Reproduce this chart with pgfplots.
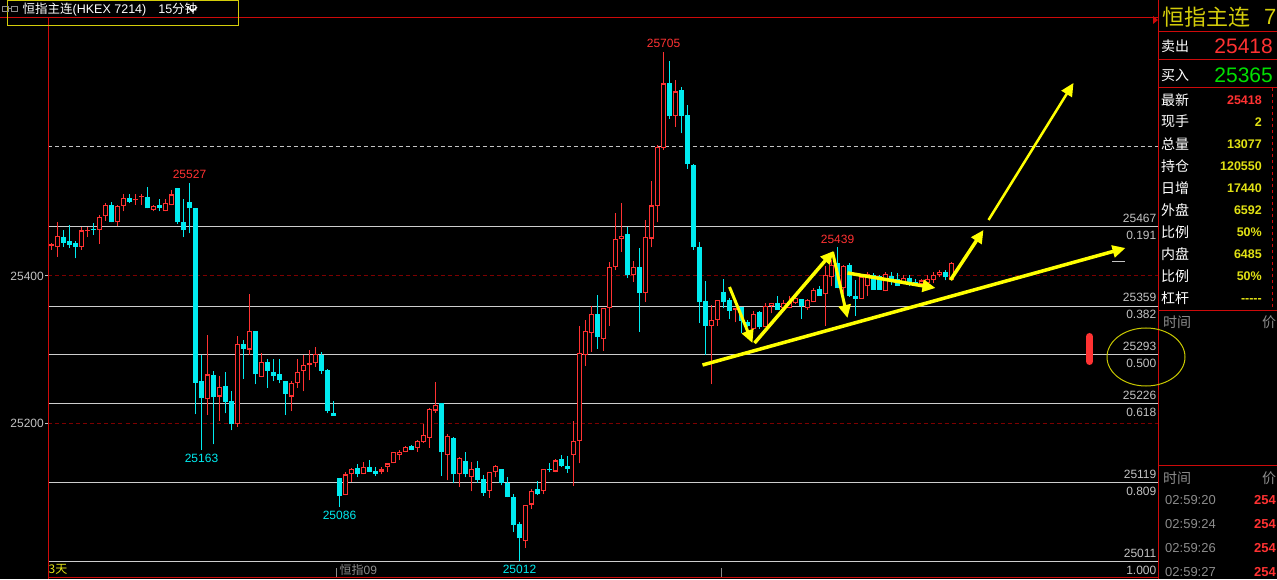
\documentclass[border=0pt]{standalone}
\usepackage{pgfplots}
\pgfplotsset{compat=1.18}
\usepackage{pgfplotstable}
\usepackage{fontspec}
\setmainfont{Liberation Sans}
\newfontfamily\cjk{Noto Sans CJK SC}
\usetikzlibrary{arrows.meta}

\definecolor{upred}{RGB}{255,50,50}
\definecolor{dncyan}{RGB}{0,235,240}
\definecolor{fibgray}{RGB}{205,205,205}
\definecolor{gridred}{RGB}{125,0,0}
\definecolor{framered}{RGB}{205,10,10}
\definecolor{txtgray}{RGB}{195,195,195}
\definecolor{dimgray}{RGB}{140,140,140}
\definecolor{ann}{RGB}{255,255,0}
\definecolor{valyel}{RGB}{225,225,20}
\definecolor{titley}{RGB}{212,205,10}
\definecolor{bidgreen}{RGB}{0,225,0}
\definecolor{ellip}{RGB}{200,200,0}

% 15-minute bars, index = bar number; rising bars
\pgfplotstableread{
i o h l c
0 25441 25445 25436 25443
1 25439 25473 25426 25454
5 25439 25467 25436 25462
6 25461 25467 25453 25463
8 25462 25483 25444 25480
9 25481 25499 25475 25497
11 25473 25497 25468 25495
12 25495 25512 25488 25506
14 25503 25511 25497 25505
15 25507 25512 25497 25509
17 25490 25497 25488 25495
19 25488 25505 25488 25499
20 25496 25517 25496 25511
26 25232 25320 25211 25266
28 25236 25264 25203 25249
31 25198 25318 25195 25308
33 25300 25376 25293 25325
35 25263 25295 25262 25283
40 25236 25257 25216 25255
41 25254 25287 25248 25270
42 25271 25293 25243 25279
43 25279 25300 25258 25281
44 25281 25303 25276 25294
49 25102 25133 25102 25130
50 25130 25139 25120 25137
52 25130 25147 25130 25140
55 25134 25140 25130 25137
56 25140 25145 25133 25145
57 25145 25161 25145 25161
58 25157 25163 25150 25161
59 25160 25169 25160 25167
61 25166 25177 25161 25176
62 25174 25199 25173 25184
63 25180 25221 25166 25219
64 25217 25256 25214 25225
66 25157 25185 25122 25182
68 25130 25154 25113 25152
70 25127 25147 25107 25137
73 25108 25134 25098 25133
74 25133 25143 25126 25141
79 25039 25088 25030 25088
80 25089 25110 25083 25107
82 25107 25137 25103 25137
84 25134 25151 25133 25149
87 25156 25203 25114 25175
88 25175 25332 25145 25295
89 25293 25340 25278 25325
90 25322 25359 25297 25348
92 25314 25356 25298 25356
93 25356 25419 25332 25412
94 25412 25486 25408 25451
95 25451 25499 25433 25455
97 25401 25420 25392 25412
99 25377 25476 25365 25453
100 25451 25529 25439 25496
101 25495 25578 25473 25576
102 25574 25705 25572 25662
104 25618 25666 25603 25651
110 25332 25360 25253 25340
111 25340 25368 25332 25367
114 25354 25356 25337 25356
117 25328 25352 25327 25348
119 25331 25363 25331 25359
120 25359 25363 25349 25363
122 25357 25367 25352 25363
123 25357 25373 25356 25365
124 25363 25373 25362 25370
126 25356 25369 25354 25367
127 25365 25383 25364 25381
129 25375 25413 25332 25401
130 25398 25422 25386 25415
132 25383 25415 25376 25414
135 25369 25401 25369 25399
136 25386 25406 25373 25403
139 25379 25406 25379 25403
142 25391 25401 25389 25397
145 25389 25396 25388 25394
146 25390 25401 25389 25396
147 25394 25406 25390 25401
148 25401 25408 25398 25406
150 25394 25419 25394 25418
}\uptable

% falling bars
\pgfplotstableread{
i o h l c
2 25453 25462 25440 25445
3 25448 25469 25438 25442
4 25445 25448 25424 25439
7 25464 25472 25456 25462
10 25496 25500 25473 25473
13 25506 25511 25499 25501
16 25507 25521 25492 25492
18 25496 25505 25488 25492
21 25520 25520 25471 25473
22 25473 25505 25453 25462
23 25500 25527 25458 25492
24 25492 25492 25212 25255
25 25257 25293 25163 25234
27 25265 25271 25171 25235
29 25250 25269 25213 25229
30 25230 25243 25190 25198
32 25308 25313 25260 25301
34 25325 25325 25253 25266
36 25283 25287 25248 25271
37 25270 25287 25257 25264
38 25266 25287 25254 25259
39 25257 25257 25211 25240
45 25292 25297 25267 25271
46 25272 25273 25213 25216
47 25213 25230 25210 25210
48 25125 25125 25086 25101
51 25139 25144 25126 25130
53 25140 25150 25134 25134
54 25135 25140 25128 25131
60 25169 25170 25163 25163
65 25227 25227 25128 25160
67 25180 25181 25118 25130
69 25148 25161 25126 25130
71 25139 25148 25119 25122
72 25124 25129 25101 25105
75 25137 25137 25115 25118
76 25119 25126 25099 25099
77 25100 25104 25052 25061
78 25062 25065 25012 25043
81 25110 25121 25102 25103
83 25137 25145 25133 25136
85 25151 25157 25140 25142
86 25141 25155 25132 25138
91 25348 25374 25301 25317
96 25457 25467 25397 25401
98 25412 25438 25324 25377
103 25662 25692 25614 25618
105 25653 25657 25594 25618
106 25619 25632 25546 25552
107 25551 25553 25436 25439
108 25439 25446 25336 25364
109 25366 25393 25293 25332
112 25378 25396 25356 25364
113 25367 25370 25342 25353
115 25358 25358 25323 25339
116 25337 25340 25331 25332
118 25351 25353 25328 25331
121 25363 25373 25354 25354
125 25369 25369 25342 25359
128 25382 25386 25373 25373
131 25417 25439 25383 25383
133 25415 25417 25372 25373
134 25373 25395 25346 25369
137 25401 25404 25381 25381
138 25400 25401 25381 25381
140 25400 25406 25388 25392
141 25396 25404 25387 25387
143 25397 25401 25386 25389
144 25392 25396 25386 25388
149 25406 25408 25394 25398
}\dntable

\tikzset{
  fiblab/.style={text=txtgray, font=\fontsize{12}{12}\selectfont, inner xsep=2pt, inner ysep=4pt},
  hilab/.style={text=upred, font=\fontsize{12}{12}\selectfont, inner sep=4pt, anchor=south},
  lolab/.style={text=dncyan, font=\fontsize{12}{12}\selectfont, inner sep=4pt, anchor=north},
  arr/.style={draw=ann, line width=3.5pt, -{Triangle[length=13pt,width=12pt]}},
}

\begin{document}
\begin{tikzpicture}[x=1pt,y=1pt]
\useasboundingbox (0,0) rectangle (1277,579);
\fill[black] (0,0) rectangle (1277,579);
\clip (0,0) rectangle (1277,579);

\begin{axis}[
  at={(48.5pt,2pt)}, anchor=south west,
  width=1110pt, height=559pt, scale only axis,
  xmin=-0.5, xmax=184.5, ymin=24990.5, ymax=25751,
  axis line style={draw=none},
  xtick=\empty,
  ytick={25200,25400}, ytick pos=left,
  tick align=outside, major tick length=3pt,
  tick style={txtgray, line width=1pt},
  scaled y ticks=false,
  /pgf/number format/1000 sep={},
  /pgf/number format/assume math mode=true,
  yticklabel style={font=\fontsize{12}{12}\selectfont, text=txtgray, inner sep=1.5pt},
  ymajorgrids,
  major grid style={gridred, dash pattern=on 4pt off 3pt, line width=1pt},
]

% reference line
\addplot[draw=txtgray, line width=1pt, dash pattern=on 4pt off 3pt] coordinates {(-0.5,25575.5) (184.5,25575.5)};

% retracement levels
\addplot[draw=fibgray, line width=1pt] coordinates {(-0.5,25467) (184.5,25467)};
\addplot[draw=fibgray, line width=1pt] coordinates {(-0.5,25359) (184.5,25359)};
\addplot[draw=fibgray, line width=1pt] coordinates {(-0.5,25293) (184.5,25293)};
\addplot[draw=fibgray, line width=1pt] coordinates {(-0.5,25226) (184.5,25226)};
\addplot[draw=fibgray, line width=1pt] coordinates {(-0.5,25119) (184.5,25119)};
\addplot[draw=fibgray, line width=1pt] coordinates {(-0.5,25011) (184.5,25011)};

% wicks
\addplot[color=upred, only marks, mark=none, mark size=0pt, mark options={draw=none, fill=none},
  error bars/.cd, y dir=plus, y explicit, error mark=none,
  error bar style={draw=upred, color=upred, line width=1.1pt}]
  table[x=i, y=l, y error plus expr=\thisrow{h}-\thisrow{l}] {\uptable};
\addplot[color=dncyan, only marks, mark=none, mark size=0pt, mark options={draw=none, fill=none},
  error bars/.cd, y dir=plus, y explicit, error mark=none,
  error bar style={draw=dncyan, color=dncyan, line width=1.1pt}]
  table[x=i, y=l, y error plus expr=\thisrow{h}-\thisrow{l}] {\dntable};

% bodies: filled for falling bars
\addplot[color=dncyan, only marks, mark=none, mark size=0pt, mark options={draw=none, fill=none},
  error bars/.cd, y dir=plus, y explicit, error mark=none,
  error bar style={draw=dncyan, color=dncyan, line width=5pt}]
  table[x=i, y=c, y error plus expr={max(\thisrow{o}-\thisrow{c},1.4)}] {\dntable};
% hollow for rising bars
\addplot[color=upred, only marks, mark=none, mark size=0pt, mark options={draw=none, fill=none},
  error bars/.cd, y dir=plus, y explicit, error mark=none,
  error bar style={draw=upred, color=upred, line width=5.2pt}]
  table[x=i, y=o, y error plus expr={max(\thisrow{c}-\thisrow{o},1.4)}] {\uptable};
\addplot[color=black, only marks, mark=none, mark size=0pt, mark options={draw=none, fill=none},
  error bars/.cd, y dir=plus, y explicit, error mark=none,
  error bar style={draw=black, color=black, line width=2.6pt}]
  table[x=i, y expr=\thisrow{o}+1.5, y error plus expr={max(\thisrow{c}-\thisrow{o}-3,0)}] {\uptable};

% extremes
\node[hilab] at (axis cs:23,25527) {25527};
\node[lolab] at (axis cs:25,25163) {25163};
\node[lolab] at (axis cs:48,25086) {25086};
\node[lolab] at (axis cs:78,25012) {25012};
\node[hilab] at (axis cs:102,25705) {25705};
\node[hilab] at (axis cs:131,25439) {25439};

% level labels
\node[fiblab, anchor=south east] at (axis cs:184.5,25467) {25467};
\node[fiblab, anchor=north east] at (axis cs:184.5,25467) {0.191};
\node[fiblab, anchor=south east] at (axis cs:184.5,25359) {25359};
\node[fiblab, anchor=north east] at (axis cs:184.5,25359) {0.382};
\node[fiblab, anchor=south east] at (axis cs:184.5,25293) {25293};
\node[fiblab, anchor=north east] at (axis cs:184.5,25293) {0.500};
\node[fiblab, anchor=south east] at (axis cs:184.5,25226) {25226};
\node[fiblab, anchor=north east] at (axis cs:184.5,25226) {0.618};
\node[fiblab, anchor=south east] at (axis cs:184.5,25119) {25119};
\node[fiblab, anchor=north east] at (axis cs:184.5,25119) {0.809};
\node[fiblab, anchor=south east] at (axis cs:184.5,25011) {25011};
\node[fiblab, anchor=north east] at (axis cs:184.5,25011) {1.000};

% last price marker and alert bar
\addplot[draw=txtgray, line width=1pt] coordinates {(176.8,25420.4) (178.9,25420.4)};
\addplot[draw=upred, line width=7pt, line cap=round] coordinates {(173,25317.7) (173,25283.7)};

% hand-drawn trend arrows
\draw[arr] (axis cs:108.5,25278.9) -- (axis cs:179,25438.1);
\draw[arr, line width=3pt] (axis cs:113,25385) -- (axis cs:116.83,25308.8);
\draw[arr] (axis cs:117.17,25308.8) -- (axis cs:130.33,25434);
\draw[arr, line width=3pt] (axis cs:130.17,25432.7) -- (axis cs:132.67,25342.9);
\draw[arr] (axis cs:132.67,25404.1) -- (axis cs:147.33,25383.7);
\draw[arr] (axis cs:149.83,25394.6) -- (axis cs:155.33,25462.6);
\draw[arr, line width=2.5pt] (axis cs:156.17,25476.2) -- (axis cs:170.33,25662.6);
\end{axis}

% frame
\draw[framered, line width=1pt] (0,561) -- (1158.5,561);
\draw[framered, line width=1pt] (48.5,561) -- (48.5,0);
\draw[framered, line width=1pt] (48.5,2) -- (1158.5,2);
\draw[framered, line width=1pt] (1158.5,0) -- (1158.5,579);
\fill[framered] (1153,563) -- (1158,559) -- (1153,555) -- cycle;

% circled level
\draw[ellip, line width=1pt] (1146,222) ellipse [x radius=39, y radius=29];

% header box
\draw[titley, line width=1pt] (7.5,578.5) rectangle (238,553);
\draw[dimgray, line width=1pt] (2.5,572.5) rectangle (8,567.5);
\draw[dimgray, line width=1pt] (8,570) -- (11.5,570);
\draw[dimgray, line width=1pt] (11.5,572.5) rectangle (17,567.5);
\node[anchor=west, inner sep=0pt, text=white, font=\fontsize{12.5}{12.5}\selectfont] at (22.5,569.5)
  {{\cjk 恒指主连}(HKEX 7214)\hspace{12pt}15{\cjk 分钟}};
\draw[white, line width=1.2pt] (188,572) -- (192.5,567.5) -- (197,572);

% footer
\node[anchor=west, inner sep=0pt, text=valyel, font=\cjk\fontsize{12}{12}\selectfont] at (48.5,10) {3天};
\node[anchor=west, inner sep=0pt, text=dimgray, font=\fontsize{12}{12}\selectfont] at (339.5,9) {{\cjk 恒指}09};
\draw[dimgray, line width=1pt] (336,2) -- (336,11);
\draw[dimgray, line width=1pt] (721,2) -- (721,11);

% quote panel
\begin{scope}[every node/.style={inner sep=0pt}]
\node[anchor=west, text=titley, font=\cjk\fontsize{22}{22}\selectfont] at (1162,562) {恒指主连};
\node[anchor=west, text=titley, font=\fontsize{22}{22}\selectfont] at (1264,562) {7};
\draw[framered, line width=1pt] (1158.5,547.5) -- (1277,547.5);
\draw[framered, line width=1pt] (1158.5,519.5) -- (1277,519.5);
\draw[framered, line width=1pt] (1158.5,491.5) -- (1277,491.5);
\node[anchor=west, text=white, font=\cjk\fontsize{14}{14}\selectfont] at (1161,533) {卖出};
\node[anchor=east, text=upred, font=\fontsize{21}{21}\selectfont] at (1273,533) {25418};
\node[anchor=west, text=white, font=\cjk\fontsize{14}{14}\selectfont] at (1161,504) {买入};
\node[anchor=east, text=bidgreen, font=\fontsize{21}{21}\selectfont] at (1273,504) {25365};

\foreach \lab/\val/\yy in {现手/2/457.3, 总量/13077/435, 持仓/120550/413.3, 日增/17440/390.7,
  外盘/6592/369, 比例/50\%/347.3, 内盘/6485/325, 比例/50\%/303}{
  \node[anchor=west, text=white, font=\cjk\fontsize{14}{14}\selectfont] at (1161,\yy) {\lab};
  \node[anchor=east, text=valyel, font=\bfseries\fontsize{12.5}{12.5}\selectfont] at (1262,\yy) {\val};
}
\node[anchor=west, text=white, font=\cjk\fontsize{14}{14}\selectfont] at (1161,479) {最新};
\node[anchor=east, text=upred, font=\bfseries\fontsize{12.5}{12.5}\selectfont] at (1262,479) {25418};
\node[anchor=west, text=white, font=\cjk\fontsize{14}{14}\selectfont] at (1161,281.3) {杠杆};
\node[anchor=east, text=valyel, font=\bfseries\fontsize{12.5}{12.5}\selectfont] at (1262,278) {-{}-{}-{}-{}-};
\draw[framered, line width=1pt, dash pattern=on 3pt off 3pt] (1272,491) -- (1272,268);

\draw[framered, line width=1pt] (1158.5,268.5) -- (1277,268.5);
\draw[framered, line width=1pt] (1158.5,113.5) -- (1277,113.5);
\node[anchor=west, text=dimgray, font=\cjk\fontsize{14}{14}\selectfont] at (1163,257) {时间};
\node[anchor=west, text=dimgray, font=\cjk\fontsize{14}{14}\selectfont] at (1262,257) {价};
\node[anchor=west, text=dimgray, font=\cjk\fontsize{14}{14}\selectfont] at (1163,101) {时间};
\node[anchor=west, text=dimgray, font=\cjk\fontsize{14}{14}\selectfont] at (1262,101) {价};
\foreach \tm/\yy in {02:59:20/79, 02:59:24/55, 02:59:26/30.7, 02:59:27/7.3}{
  \node[anchor=west, text=dimgray, font=\fontsize{13}{13}\selectfont] at (1165,\yy) {\tm};
  \node[anchor=west, text=upred, font=\bfseries\fontsize{13}{13}\selectfont] at (1254,\yy) {254};
}
\end{scope}
\end{tikzpicture}
\end{document}
